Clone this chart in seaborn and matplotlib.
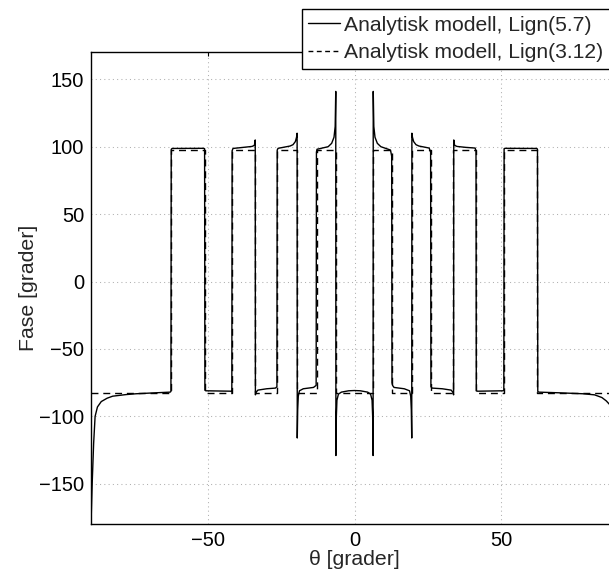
import numpy as np
import pandas as pd
import matplotlib
matplotlib.use("Agg")
import matplotlib.pyplot as plt
import seaborn as sns

# Lign(5.7) - values
theta_57 = [-90.0, -89.6, -89.1, -88.6, -87.8, -86.5, -84.5, -82.6, -78.0, -74.6, -68.0, -63.0,
            -62.7, -62.6, -62.3, -51.5, -51.2,
            -51.1, -50.8, -42.2, -41.9,
            -41.8, -41.5, -38.0, -35.0, -34.2, -33.9,
            -33.85, -33.6, -33.0, -30.0, -27.0, -26.5,
            -26.4, -26.1, -22.0, -21.0, -20.2, -19.8, -19.6,
            -19.55, -19.4, -19.2, -18.8, -17.5, -14.0, -13.1,
            -13.0, -12.8, -11.0, -9.0, -7.8, -7.0, -6.6, -6.4,
            -6.35, -6.2, -6.0, -5.5, -4.5, -2.0, 0.0, 2.0, 4.5, 5.5, 6.0, 6.2, 6.35,
            6.4, 6.6, 7.0, 7.8, 9.0, 11.0, 12.3, 12.7,
            12.8, 13.0, 13.5, 17.0, 18.8, 19.2, 19.4, 19.55,
            19.6, 19.8, 20.2, 21.0, 22.0, 25.5, 26.0,
            26.1, 26.5, 30.0, 33.0, 33.6, 33.85,
            33.9, 34.2, 35.0, 38.0, 41.2, 41.5,
            41.6, 42.0, 50.8, 51.0,
            51.1, 51.4, 62.3, 62.5,
            62.6, 63.0, 70.0, 78.0, 82.0, 84.5, 86.0, 87.5, 88.6, 89.1, 89.6, 90.0]
fase_57 = [-180, -150, -120, -100, -93, -89, -86.5, -85, -83.8, -83.2, -82.5, -82.0,
           -81.5, 98.0, 98.7, 98.8, 98.5,
           -80.5, -81.0, -81.3, -82.0,
           97.0, 98.7, 99.5, 100.2, 101.0, 105.0,
           -84.0, -82.0, -80.5, -79.5, -79.0, -78.0,
           97.5, 98.8, 100.5, 101.5, 103.8, 107.0, 110.0,
           -116.0, -95.0, -85.0, -81.0, -79.5, -78.5, -77.0,
           96.0, 98.1, 99.0, 100.0, 102.5, 107.0, 115.0, 141.0,
           -129.0, -100.0, -88.0, -83.5, -82.0, -81.0, -80.8, -81.0, -82.0, -83.5, -88.0, -100.0, -129.0,
           141.0, 115.0, 107.0, 102.5, 100.0, 98.5, 97.5, 93.0,
           -75.0, -77.0, -78.5, -79.5, -81.0, -85.0, -95.0, -116.0,
           110.0, 107.0, 103.8, 101.5, 100.5, 99.0, 96.0,
           -78.0, -79.0, -79.5, -80.5, -82.0, -84.0,
           105.0, 101.0, 100.2, 99.5, 99.0, 97.0,
           -81.0, -81.3, -81.0, -80.5,
           98.5, 98.8, 98.7, 98.0,
           -81.5, -82.0, -82.5, -83.2, -84.0, -86.0, -88.5, -92.0, -100, -120, -150, -180]

# Lign(3.12) - step between two levels, edges
kanter_312 = [-62.7, -51.1, -41.8, -33.9, -26.4, -19.5, -12.8, -6.4,
              6.4, 12.8, 19.6, 26.1, 33.8, 41.6, 51.1, 62.5]
lav_312 = -82.5
hoy_312 = 97.5

theta_312 = [-90.0]
fase_312 = [lav_312]
nivaa = lav_312
for k in kanter_312:
    theta_312 += [k, k]
    ny = hoy_312 if nivaa == lav_312 else lav_312
    fase_312 += [nivaa, ny]
    nivaa = ny
theta_312.append(90.0)
fase_312.append(nivaa)

sns.set_style("white")
plt.rcParams['font.family'] = ['Liberation Sans', 'DejaVu Sans']
plt.rcParams['font.size'] = 14.5

fig = plt.figure(figsize=(6.09, 5.77), dpi=100)
ax = fig.add_axes([91/609, (577-524.3)/577, 527/609, 472/577])

df57 = pd.DataFrame({"theta": theta_57, "fase": fase_57})
df312 = pd.DataFrame({"theta": theta_312, "fase": fase_312})
sns.lineplot(data=df57, x="theta", y="fase", sort=False, estimator=None, color="black",
             linewidth=1.0, ax=ax, label="Analytisk modell, Lign(5.7)")
sns.lineplot(data=df312, x="theta", y="fase", sort=False, estimator=None, color="black",
             linewidth=1.0, dashes=False, ax=ax, label="Analytisk modell, Lign(3.12)")
ax.lines[1].set_linestyle((0, (5, 3.5)))

ax.set_xlim(-90, 90)
ax.set_ylim(-180, 170)
ax.set_xticks([-50, 0, 50])
ax.set_yticks([-150, -100, -50, 0, 50, 100, 150])
ax.grid(True, color="#b0b0b0", linestyle=(0, (1, 3.1)), linewidth=0.75)
ax.tick_params(direction="in", length=3, width=0.8, top=True, right=True, colors="black",
               labelsize=14.5, pad=5)
for s in ax.spines.values():
    s.set_color("black")
    s.set_linewidth(1.0)
ax.set_xlabel("θ [grader]", fontsize=15.3, labelpad=0)
ax.set_ylabel("Fase [grader]", fontsize=15.3, labelpad=1)

leg = ax.legend(loc="upper left", bbox_to_anchor=(302/609, 1 - 9.3/577),
                bbox_transform=fig.transFigure, frameon=True, fancybox=False,
                framealpha=1, edgecolor="black", fontsize=15.2, borderpad=0.3,
                handlelength=1.5, handletextpad=0.2, labelspacing=0.42, borderaxespad=0)
leg.get_frame().set_linewidth(1.0)
leg.get_lines()[1].set_linestyle((0, (3.5, 2.5)))

fig.savefig("out.png", dpi=100)
